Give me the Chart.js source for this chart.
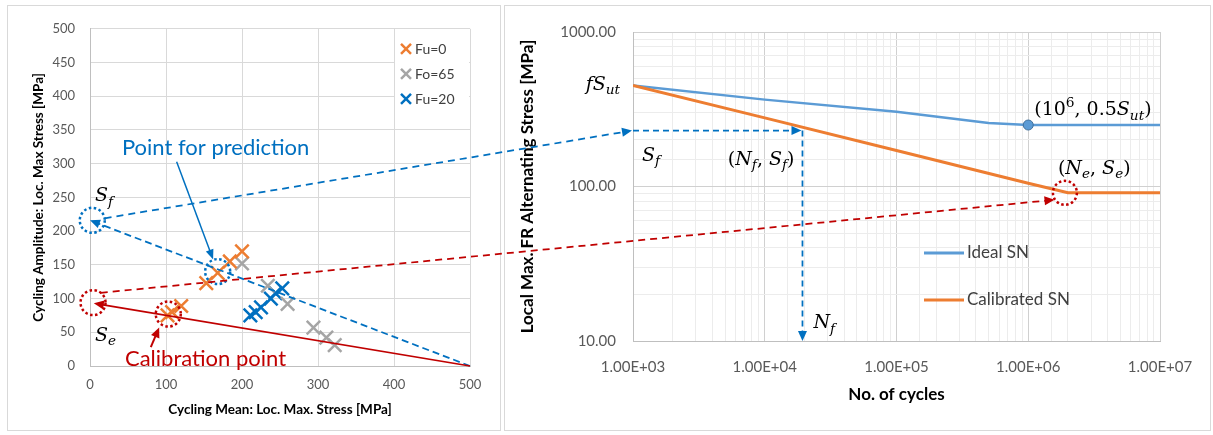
<!DOCTYPE html>
<html><head><meta charset="utf-8">
<script src="https://cdn.jsdelivr.net/npm/chart.js@4.4.1/dist/chart.umd.min.js"></script>
<style>
html,body{margin:0;padding:0;background:#fff;}
#wrap{position:relative;width:1213px;height:435px;background:#fff;overflow:hidden;}
.panel{position:absolute;border:1px solid #d9d9d9;box-sizing:border-box;background:#fff;}
canvas{display:block;}
#overlay{position:absolute;left:0;top:0;pointer-events:none;}
</style></head><body>
<div id="wrap">
 <div class="panel" style="left:7px;top:5px;width:494px;height:426px;"><canvas id="cL" width="492" height="424"></canvas></div>
 <div class="panel" style="left:504px;top:5px;width:707px;height:426px;"><canvas id="cR" width="705" height="424"></canvas></div>
 <canvas id="overlay" width="1213" height="435"></canvas>
</div>
<script>
// ---------- DATA ----------
const fu0Mean  = [102, 108, 120, 153, 168, 184, 200];
const fu0Amp   = [75, 80, 89, 123, 138, 155, 170];
const fo65Mean = [200, 234, 260, 294, 311, 322];
const fo65Amp  = [152, 119, 92, 57, 42, 31];
const fu20Mean = [211, 218, 225, 238, 244, 253];
const fu20Amp  = [75, 80, 87, 100, 108, 115];
const seriesLabels = ['Fu=0', 'Fo=65', 'Fu=20'];
const meanTicks = [0, 100, 200, 300, 400, 500];
const ampTicks  = [0, 50, 100, 150, 200, 250, 300, 350, 400, 450, 500];

const idealCycles = [1e3, 1e4, 1e5, 5e5, 1e6, 1e7];
const idealSN     = [450, 365, 305, 258, 250, 250];
const calCycles   = [1e3, 1e4, 1e5, 1e6, 2e6, 1e7];
const calSN       = [450, 278, 171, 105, 91, 91];
const snLabels    = ['Ideal SN', 'Calibrated SN'];
const cycleTickValues = [1e3, 1e4, 1e5, 1e6, 1e7];
const cycleTickLabels = ['1.00E+03', '1.00E+04', '1.00E+05', '1.00E+06', '1.00E+07'];
const stressTickValues = [10, 100, 1000];
const stressTickLabels = ['10.00', '100.00', '1000.00'];

// annotation values
const Sut = 500;
const sfPoint = [3, 216];     // S_f on amplitude axis
const sePoint = [4, 94];      // S_e on amplitude axis
const predPoint = [168, 140];
const calPoint = [103, 77];
const NfCycles = 1.9e4, SfStress = 230;
const NeCycles = 2e6, SeStress = 91;
const kneeIndex = 4;

// ---------- STYLE ----------
const BLUE = '#0070C0', RED = '#C00000', ORANGE = '#ED7D31', GRAY = '#A5A5A5', LBLUE = '#5B9BD5';
Chart.defaults.font.family = 'Lato, "Liberation Sans", sans-serif';
const MATHF = '"DejaVu Serif", "Liberation Serif", serif';

function arrowLine(ctx, x1, y1, x2, y2, o) {
  const a = Math.atan2(y2 - y1, x2 - x1), hl = o.head || 9, hw = o.headW || 4.5;
  ctx.save();
  ctx.strokeStyle = o.color; ctx.fillStyle = o.color; ctx.lineWidth = o.width || 2;
  ctx.setLineDash(o.dash || []);
  ctx.beginPath(); ctx.moveTo(x1, y1);
  ctx.lineTo(x2 - Math.cos(a) * hl * 0.8, y2 - Math.sin(a) * hl * 0.8); ctx.stroke();
  ctx.setLineDash([]);
  ctx.beginPath(); ctx.moveTo(x2, y2);
  ctx.lineTo(x2 - Math.cos(a) * hl + Math.sin(a) * hw, y2 - Math.sin(a) * hl - Math.cos(a) * hw);
  ctx.lineTo(x2 - Math.cos(a) * hl - Math.sin(a) * hw, y2 - Math.sin(a) * hl + Math.cos(a) * hw);
  ctx.closePath(); ctx.fill();
  ctx.restore();
}
function plainLine(ctx, x1, y1, x2, y2, color, w, dash) {
  ctx.save(); ctx.strokeStyle = color; ctx.lineWidth = w; ctx.setLineDash(dash || []);
  ctx.beginPath(); ctx.moveTo(x1, y1); ctx.lineTo(x2, y2); ctx.stroke(); ctx.restore();
}
function dotCircle(ctx, x, y, r, color) {
  ctx.save(); ctx.strokeStyle = color; ctx.lineWidth = 2.5; ctx.setLineDash([2.5, 2.5]);
  ctx.beginPath(); ctx.arc(x, y, r, 0, Math.PI * 2); ctx.stroke(); ctx.restore();
}
function drawMath(ctx, runs, x, y, align, size) {
  const fontFor = k => {
    const small = (k === 'isub' || k === 'sup');
    return ((k === 'i' || k === 'isub') ? 'italic ' : '') + (small ? size * 0.72 : size) + 'px ' + MATHF;
  };
  ctx.save(); ctx.fillStyle = '#000'; ctx.textAlign = 'left'; ctx.textBaseline = 'alphabetic';
  const ws = runs.map(([t, k]) => { ctx.font = fontFor(k); return ctx.measureText(t).width; });
  const total = ws.reduce((s, v) => s + v, 0);
  let cx = align === 'right' ? x - total : align === 'center' ? x - total / 2 : x;
  runs.forEach(([t, k], i) => {
    ctx.font = fontFor(k);
    const dy = k === 'isub' ? size * 0.24 : k === 'sup' ? -size * 0.42 : 0;
    ctx.fillText(t, cx, y + dy); cx += ws[i];
  });
  ctx.restore();
}
function sansText(ctx, t, x, y, color, size, align) {
  ctx.save(); ctx.fillStyle = color; ctx.font = size + 'px Lato, "Liberation Sans", sans-serif';
  ctx.textAlign = align || 'left'; ctx.textBaseline = 'middle'; ctx.fillText(t, x, y); ctx.restore();
}
function drawCross(ctx, x, y, r, color, w) {
  ctx.save(); ctx.strokeStyle = color; ctx.lineWidth = w;
  ctx.beginPath(); ctx.moveTo(x - r, y - r); ctx.lineTo(x + r, y + r);
  ctx.moveTo(x - r, y + r); ctx.lineTo(x + r, y - r); ctx.stroke(); ctx.restore();
}

// ---------- LEFT CHART ----------
const pts = (xs, ys) => xs.map((v, i) => ({x: v, y: ys[i]}));
const leftColors = [ORANGE, GRAY, BLUE];
const leftAnno = {
  id: 'leftAnno',
  afterDatasetsDraw(chart) {
    const {ctx, chartArea: ca, scales: {x, y}} = chart;
    const P = (a, b) => [x.getPixelForValue(a), y.getPixelForValue(b)];
    // legend
    ctx.save(); ctx.fillStyle = '#fff';
    ctx.fillRect(ca.right - 75, ca.top + 7, 74, 76); ctx.restore();
    seriesLabels.forEach((lab, i) => {
      const yy = ca.top + 20 + i * 25;
      drawCross(ctx, ca.right - 64, yy, 5, leftColors[i], 2.5);
      sansText(ctx, lab, ca.right - 55, yy + 1, '#404040', 14);
    });
    // Goodman-type lines
    const o = P(Sut, 0), sf = P(0, sfPoint[1]), se = P(5, sePoint[1] - 1);
    arrowLine(ctx, o[0], o[1], sf[0], sf[1], {color: BLUE, width: 1.75, dash: [7, 4], head: 10, headW: 4.5});
    arrowLine(ctx, o[0], o[1], se[0], se[1], {color: RED, width: 1.75, head: 10, headW: 4.5});
    // circles
    let c = P(...sfPoint); dotCircle(ctx, c[0], c[1], 12.5, BLUE);
    c = P(...sePoint); dotCircle(ctx, c[0], c[1], 12.5, RED);
    c = P(...predPoint); dotCircle(ctx, c[0], c[1], 12.5, BLUE);
    c = P(...calPoint); dotCircle(ctx, c[0], c[1], 12.5, RED);
    // callout arrows
    let a = P(114, 303), b = P(162, 158);
    arrowLine(ctx, a[0], a[1], b[0], b[1], {color: BLUE, width: 1.5, head: 10, headW: 4});
    a = P(80, 28); b = P(91, 57);
    arrowLine(ctx, a[0], a[1], b[0], b[1], {color: RED, width: 2, head: 10, headW: 4.5});
    // texts
    let t = P(42, 323); sansText(ctx, 'Point for prediction', t[0], t[1], BLUE, 22);
    t = P(46, 10); sansText(ctx, 'Calibration point', t[0], t[1], RED, 22);
    t = P(0, sfPoint[1]); drawMath(ctx, [['S', 'i'], ['f', 'isub']], t[0] + 5, t[1] - 19, 'left', 19);
    t = P(0, sePoint[1]); drawMath(ctx, [['S', 'i'], ['e', 'isub']], t[0] + 5, t[1] + 38, 'left', 19);
  }
};
const leftChart = new Chart(document.getElementById('cL'), {
  type: 'scatter',
  data: {
    datasets: [
      {label: seriesLabels[0], data: pts(fu0Mean, fu0Amp), borderColor: ORANGE, backgroundColor: ORANGE},
      {label: seriesLabels[1], data: pts(fo65Mean, fo65Amp), borderColor: GRAY, backgroundColor: GRAY},
      {label: seriesLabels[2], data: pts(fu20Mean, fu20Amp), borderColor: BLUE, backgroundColor: BLUE}
    ]
  },
  options: {
    responsive: false, animation: false, events: [],
    layout: {padding: {left: 0, top: 19, right: 30, bottom: 0}},
    elements: {point: {pointStyle: 'crossRot', radius: 9.5, borderWidth: 2.5}},
    plugins: {legend: {display: false}, tooltip: {enabled: false}},
    scales: {
      x: {
        type: 'linear', min: 0, max: 500,
        afterBuildTicks: s => { s.ticks = meanTicks.map(v => ({value: v})); },
        afterFit: s => { s.height = 64; },
        grid: {color: '#d9d9d9', lineWidth: 1, drawTicks: false},
        border: {color: '#bfbfbf', width: 1},
        ticks: {color: '#595959', font: {size: 13}, padding: 11, maxRotation: 0},
        title: {display: true, text: 'Cycling Mean: Loc. Max. Stress [MPa]', color: '#000',
                font: {size: 13.5, weight: 'bold'}, padding: {top: 0, bottom: 12}}
      },
      y: {
        type: 'linear', min: 0, max: 500,
        afterBuildTicks: s => { s.ticks = ampTicks.map(v => ({value: v})); },
        afterFit: s => { s.width = 82; },
        grid: {color: '#d9d9d9', lineWidth: 1, drawTicks: false},
        border: {color: '#bfbfbf', width: 1},
        ticks: {color: '#595959', font: {size: 13}, padding: 15},
        title: {display: true, text: 'Cycling Amplitude: Loc. Max Stress [MPa]', color: '#000',
                font: {size: 13.5, weight: 'bold'}, padding: {top: 23, bottom: 0}}
      }
    }
  },
  plugins: [leftAnno]
});

// ---------- RIGHT CHART ----------
const rightAnno = {
  id: 'rightAnno',
  afterDatasetsDraw(chart) {
    const {ctx, chartArea: ca, scales: {x, y}} = chart;
    const P = (a, b) => [x.getPixelForValue(a), y.getPixelForValue(b)];
    const s0 = P(cycleTickValues[0], SfStress), nf = P(NfCycles, SfStress), nb = P(NfCycles, stressTickValues[0]);
    arrowLine(ctx, s0[0], s0[1], nf[0], nf[1], {color: BLUE, width: 1.75, dash: [6, 4], head: 10, headW: 4.5});
    arrowLine(ctx, nf[0] + 1, nf[1], nb[0] + 1, nb[1], {color: BLUE, width: 1.75, dash: [6, 4], head: 10, headW: 4.5});
    const ne = P(NeCycles, SeStress);
    dotCircle(ctx, ne[0] - 3, ne[1], 12, RED);
    // labels
    let t = P(cycleTickValues[0], 450);
    drawMath(ctx, [['f', 'i'], ['S', 'i'], ['ut', 'isub']], t[0] - 13, t[1] + 4, 'right', 19);
    t = P(1e6, 250);
    drawMath(ctx, [['(', 'r'], ['10', 'r'], ['6', 'sup'], [', ', 'r'], ['0.5', 'r'], ['S', 'i'], ['ut', 'isub'], [')', 'r']], t[0] + 6, t[1] - 10, 'left', 19);
    drawMath(ctx, [['S', 'i'], ['f', 'isub']], s0[0] + 9, s0[1] + 30, 'left', 19);
    drawMath(ctx, [['(', 'r'], ['N', 'i'], ['f', 'isub'], [', ', 'r'], ['S', 'i'], ['f', 'isub'], [')', 'r']], nf[0] - 7, nf[1] + 34, 'right', 19);
    drawMath(ctx, [['(', 'r'], ['N', 'i'], ['e', 'isub'], [', ', 'r'], ['S', 'i'], ['e', 'isub'], [')', 'r']], ne[0] - 10, ne[1] - 19, 'left', 19);
    drawMath(ctx, [['N', 'i'], ['f', 'isub']], nb[0] + 12, nb[1] - 13, 'left', 19);
    // legend
    const cols = [LBLUE, ORANGE];
    snLabels.forEach((lab, i) => {
      const yy = ca.top + 221 + i * 47;
      plainLine(ctx, ca.left + 291, yy, ca.left + 331, yy, cols[i], 3);
      sansText(ctx, lab, ca.left + 334, yy, '#404040', 17);
    });
  }
};
const isDecade = v => Math.abs(Math.log10(v) - Math.round(Math.log10(v))) < 1e-9;
const rightChart = new Chart(document.getElementById('cR'), {
  type: 'scatter',
  data: {
    datasets: [
      {label: snLabels[0], data: pts(idealCycles, idealSN), showLine: true, borderColor: LBLUE, borderWidth: 2.5,
       order: 2, pointRadius: c => c.dataIndex === kneeIndex ? 5 : 0, pointStyle: 'circle',
       pointBackgroundColor: LBLUE, pointBorderColor: '#41719C', pointBorderWidth: 1},
      {label: snLabels[1], data: pts(calCycles, calSN), showLine: true, borderColor: ORANGE, borderWidth: 3,
       order: 1, pointRadius: 0}
    ]
  },
  options: {
    responsive: false, animation: false, events: [],
    layout: {padding: {left: 0, top: 22, right: 50, bottom: 0}},
    plugins: {legend: {display: false}, tooltip: {enabled: false}},
    scales: {
      x: {
        type: 'logarithmic', min: 1e3, max: 1e7,
        afterFit: s => { s.height = 89; },
        grid: {color: c => (c.tick && isDecade(c.tick.value)) ? '#d0d0d0' : '#ececec', lineWidth: 1, drawTicks: false},
        border: {color: '#bfbfbf', width: 1},
        ticks: {color: '#595959', font: {size: 15}, padding: 17, autoSkip: false, maxRotation: 0, minRotation: 0,
                callback: v => { const i = cycleTickValues.indexOf(v); return i >= 0 ? cycleTickLabels[i] : ''; }},
        title: {display: true, text: 'No. of cycles', color: '#000', font: {size: 17, weight: 'bold'}, padding: {top: 0, bottom: 25}}
      },
      y: {
        type: 'logarithmic', min: 10, max: 1000,
        afterFit: s => { s.width = 128; },
        grid: {color: c => (c.tick && isDecade(c.tick.value)) ? '#d0d0d0' : '#ececec', lineWidth: 1, drawTicks: false},
        border: {color: '#bfbfbf', width: 1},
        ticks: {color: '#595959', font: {size: 15}, padding: 17, autoSkip: false,
                callback: v => { const i = stressTickValues.indexOf(v); return i >= 0 ? stressTickLabels[i] : ''; }},
        title: {display: true, text: 'Local Max. FR Alternating Stress [MPa]', color: '#000', font: {size: 17, weight: 'bold'}, padding: {top: 12, bottom: 0}}
      }
    }
  },
  plugins: [rightAnno]
});

// ---------- CROSS-PANEL ARROWS ----------
function drawOverlay() {
  const ov = document.getElementById('overlay').getContext('2d');
  ov.clearRect(0, 0, 1213, 435);
  const lp = (a, b) => [8 + leftChart.scales.x.getPixelForValue(a), 6 + leftChart.scales.y.getPixelForValue(b)];
  const rp = (a, b) => [505 + rightChart.scales.x.getPixelForValue(a), 6 + rightChart.scales.y.getPixelForValue(b)];
  const c1 = lp(...sfPoint), t1 = rp(cycleTickValues[0], SfStress);
  const dx = t1[0] - c1[0], dy = t1[1] - c1[1], dl = Math.hypot(dx, dy);
  arrowLine(ov, c1[0] + dx / dl * 12.5, c1[1] + dy / dl * 12.5, t1[0] - 1, t1[1], {color: BLUE, width: 1.75, dash: [7, 5], head: 10, headW: 4.5});
  const c2 = lp(...sePoint), t2 = rp(NeCycles, SeStress);
  const a1 = -52 * Math.PI / 180, a2 = 150 * Math.PI / 180;
  arrowLine(ov, c2[0] + 12.5 * Math.cos(a1), c2[1] + 12.5 * Math.sin(a1), t2[0] - 3 + 12 * Math.cos(a2), t2[1] + 12 * Math.sin(a2) + 1,
            {color: RED, width: 1.75, dash: [7, 5], head: 10, headW: 4.5});
}
drawOverlay();
</script>
</body></html>
